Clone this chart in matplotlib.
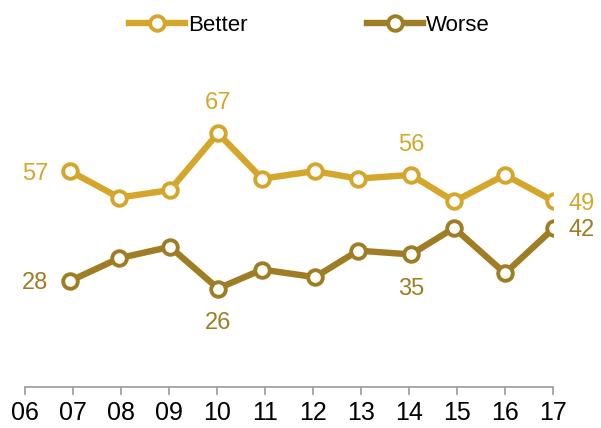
import matplotlib.pyplot as plt

# survey dates (fractional year) and shares
years = [2006.94, 2007.96, 2009.02, 2010.02, 2010.94, 2012.04, 2012.94, 2014.04, 2014.94, 2016.0, 2017.02]
tick_labels = ['06', '07', '08', '09', '10', '11', '12', '13', '14', '15', '16', '17']
better = [57, 50, 52, 67, 55, 57, 55, 56, 49, 56, 49]
worse = [28, 34, 37, 26, 31, 29, 36, 35, 42, 30, 42]

c_better = '#D4A72C'
c_worse = '#9E7D24'

plt.rcParams['font.family'] = ['Liberation Sans', 'DejaVu Sans']

fig = plt.figure(figsize=(6.01, 4.28), dpi=100)
ax = fig.add_axes([0.0416, 0.0958, 0.8786, 0.885])
ax.set_xlim(2006, 2017)
ax.set_ylim(0, 100)

mk = dict(marker='o', markersize=10.5, markerfacecolor='white', markeredgewidth=2.8)
ax.plot(years, better, color=c_better, lw=4.6, label='Better', markeredgecolor=c_better, **mk)
ax.plot(years, worse, color=c_worse, lw=4.6, label='Worse', markeredgecolor=c_worse, **mk)

fs = 17
side = dict(fontsize=fs, va='center_baseline')
ax.text(years[0] - 0.45, better[0], str(better[0]), color=c_better, ha='right', **side)
ax.text(years[0] - 0.45, worse[0], str(worse[0]), color=c_worse, ha='right', **side)
ax.text(years[3], better[3] + 5, str(better[3]), color=c_better, fontsize=fs, ha='center', va='bottom')
ax.text(years[7], better[7] + 5, str(better[7]), color=c_better, fontsize=fs, ha='center', va='bottom')
ax.text(years[3], worse[3] - 6.3, str(worse[3]), color=c_worse, fontsize=fs, ha='center', va='top')
ax.text(years[7], worse[7] - 6.3, str(worse[7]), color=c_worse, fontsize=fs, ha='center', va='top')
ax.text(years[-1] + 0.3, better[-1], str(better[-1]), color=c_better, ha='left', **side)
ax.text(years[-1] + 0.3, worse[-1], str(worse[-1]), color=c_worse, ha='left', **side)

for s in ['top', 'right', 'left']:
    ax.spines[s].set_visible(False)
ax.spines['bottom'].set_color('#999999')
ax.spines['bottom'].set_linewidth(1.2)
ax.set_yticks([])
ax.set_xticks(range(2006, 2018))
ax.set_xticklabels(tick_labels)
ax.tick_params(axis='x', length=6, width=1.2, color='#999999', labelsize=18, pad=4)

fig.legend(loc='upper center', bbox_to_anchor=(0.515, 1.012), ncol=2, frameon=False,
           fontsize=16, handlelength=2.5, handletextpad=0.15, columnspacing=5.4)

fig.savefig('out.png', dpi=100)
